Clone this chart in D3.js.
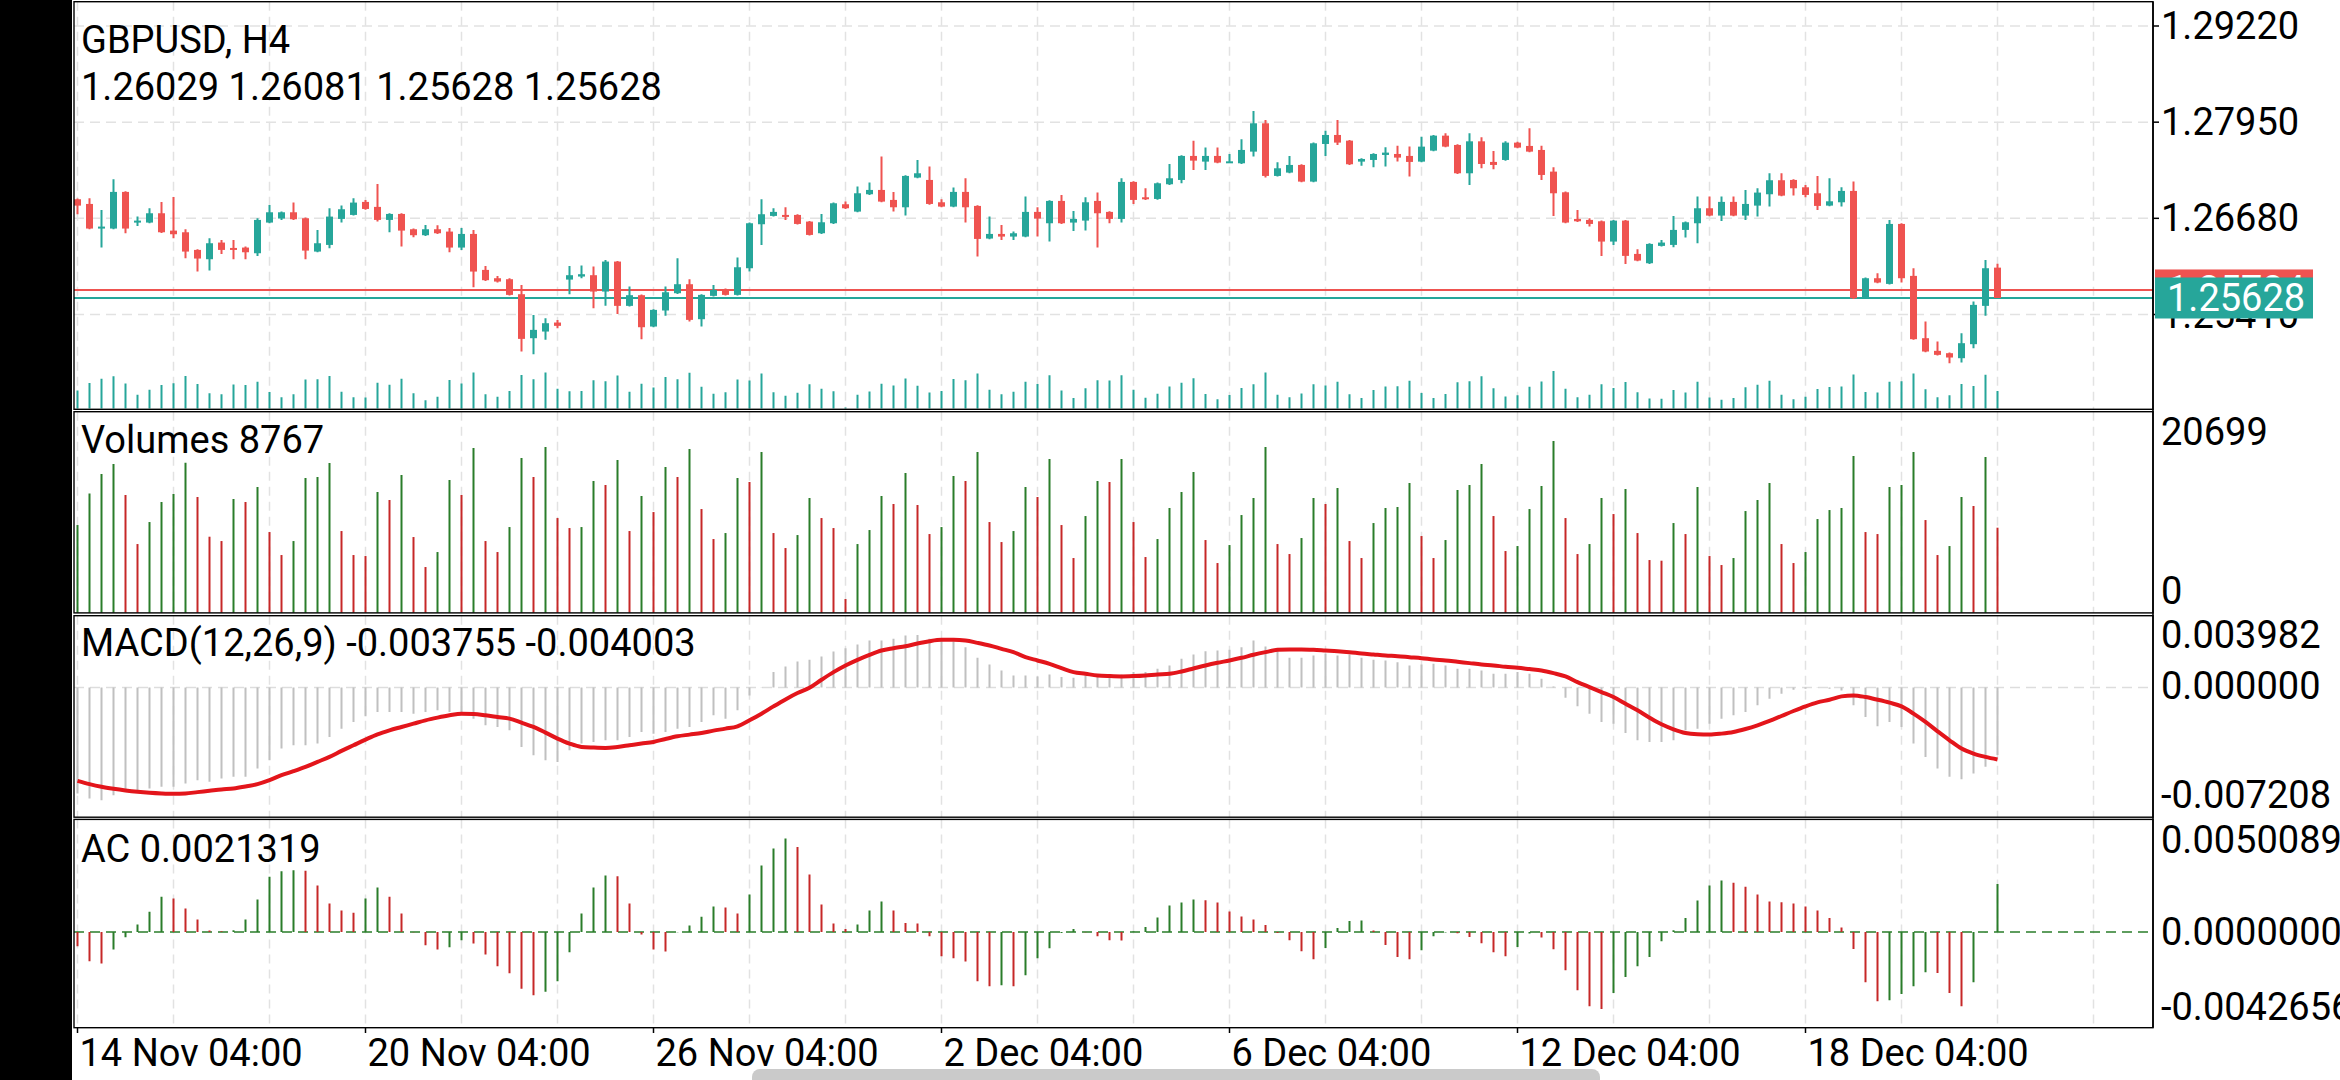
<!DOCTYPE html>
<html><head><meta charset="utf-8">
<script src="https://cdn.jsdelivr.net/npm/d3@7"></script>
<style>html,body{margin:0;padding:0;background:#fff;overflow:hidden}svg{display:block}text{font-family:Roboto,"Noto Sans",sans-serif}</style>
</head><body><svg id="c" width="2340" height="1080"></svg>
<script>
const symbol = "GBPUSD, H4";
const xTickIndex = [0,24,48,72,96,120,144];
const xTickLabels = ["14 Nov 04:00","20 Nov 04:00","26 Nov 04:00","2 Dec 04:00","6 Dec 04:00","12 Dec 04:00","18 Dec 04:00"];
const priceTicks = [1.29220,1.27950,1.26680,1.25410];
const bidPrice = 1.25628, askPrice = 1.25734;
const volRange = [0,20699];
const macdRange = [-0.007208,0.003982];
const acRange = [-0.0042656,0.0050089];

// [open, high, low, close]
const ohlc = [
[1.26932,1.26941,1.26734,1.26848],[1.26870,1.26945,1.26536,1.26545],[1.26545,1.26791,1.26294,1.26571],[1.26545,1.27196,1.26536,1.27029],[1.27029,1.27037,1.26483,1.26545],
[1.26624,1.26703,1.26580,1.26650],[1.26624,1.26813,1.26615,1.26747],[1.26747,1.26897,1.26487,1.26496],[1.26518,1.26963,1.26417,1.26470],[1.26496,1.26536,1.26153,1.26241],
[1.26263,1.26272,1.25977,1.26149],[1.26140,1.26417,1.25990,1.26351],[1.26360,1.26395,1.26210,1.26263],[1.26289,1.26395,1.26140,1.26276],[1.26294,1.26307,1.26140,1.26232],
[1.26219,1.26681,1.26184,1.26659],[1.26624,1.26857,1.26615,1.26760],[1.26677,1.26769,1.26659,1.26760],[1.26760,1.26888,1.26659,1.26668],[1.26681,1.26690,1.26140,1.26254],
[1.26241,1.26527,1.26232,1.26351],[1.26329,1.26813,1.26285,1.26703],[1.26672,1.26848,1.26624,1.26800],[1.26725,1.26945,1.26716,1.26888],[1.26897,1.26923,1.26795,1.26804],
[1.26831,1.27134,1.26637,1.26659],[1.26659,1.26747,1.26496,1.26738],[1.26738,1.26747,1.26307,1.26518],[1.26536,1.26545,1.26430,1.26457],[1.26457,1.26593,1.26448,1.26536],
[1.26536,1.26589,1.26474,1.26483],[1.26505,1.26553,1.26232,1.26294],[1.26294,1.26553,1.26263,1.26474],[1.26474,1.26527,1.25770,1.25977],[1.25999,1.26052,1.25854,1.25863],
[1.25889,1.25920,1.25832,1.25845],[1.25876,1.25889,1.25660,1.25669],[1.25678,1.25801,1.24921,1.25088],[1.25097,1.25405,1.24886,1.25207],[1.25185,1.25361,1.25075,1.25295],
[1.25304,1.25339,1.25229,1.25260],[1.25871,1.26052,1.25678,1.25929],[1.25911,1.26056,1.25889,1.25942],[1.25929,1.26043,1.25493,1.25713],[1.25713,1.26131,1.25524,1.26109],
[1.26109,1.26118,1.25418,1.25524],[1.25524,1.25779,1.25515,1.25665],[1.25665,1.25673,1.25084,1.25242],[1.25251,1.25480,1.25242,1.25471],[1.25463,1.25779,1.25392,1.25704],
[1.25691,1.26153,1.25682,1.25810],[1.25810,1.25876,1.25317,1.25339],[1.25348,1.25678,1.25251,1.25669],[1.25656,1.25801,1.25647,1.25735],[1.25744,1.25753,1.25660,1.25669],
[1.25669,1.26162,1.25660,1.26034],[1.26021,1.26624,1.25977,1.26615],[1.26602,1.26932,1.26329,1.26734],[1.26712,1.26813,1.26703,1.26765],[1.26725,1.26826,1.26659,1.26703],
[1.26725,1.26734,1.26598,1.26606],[1.26637,1.26646,1.26452,1.26461],[1.26483,1.26738,1.26474,1.26628],[1.26615,1.26888,1.26606,1.26879],[1.26866,1.26901,1.26804,1.26813],
[1.26769,1.27099,1.26760,1.27011],[1.26998,1.27152,1.26989,1.27055],[1.27055,1.27495,1.26892,1.26901],[1.26923,1.27029,1.26769,1.26826],[1.26826,1.27249,1.26716,1.27240],
[1.27218,1.27451,1.27209,1.27275],[1.27187,1.27363,1.26861,1.26870],[1.26892,1.26932,1.26826,1.26835],[1.26835,1.27086,1.26826,1.27029],[1.27029,1.27209,1.26624,1.26826],
[1.26844,1.26853,1.26175,1.26408],[1.26413,1.26703,1.26404,1.26474],[1.26474,1.26593,1.26395,1.26439],[1.26439,1.26505,1.26395,1.26483],[1.26439,1.26967,1.26430,1.26765],
[1.26765,1.26826,1.26439,1.26677],[1.26615,1.26919,1.26373,1.26910],[1.26910,1.26989,1.26606,1.26615],[1.26624,1.26778,1.26514,1.26672],[1.26650,1.26958,1.26518,1.26892],
[1.26910,1.27020,1.26294,1.26747],[1.26765,1.26773,1.26615,1.26672],[1.26672,1.27209,1.26624,1.27161],[1.27161,1.27169,1.26870,1.26923],[1.26958,1.27077,1.26923,1.26932],
[1.26936,1.27152,1.26927,1.27143],[1.27130,1.27398,1.27121,1.27209],[1.27187,1.27513,1.27143,1.27504],[1.27504,1.27706,1.27319,1.27442],[1.27429,1.27614,1.27319,1.27504],
[1.27504,1.27614,1.27407,1.27416],[1.27420,1.27530,1.27411,1.27433],[1.27407,1.27724,1.27398,1.27583],[1.27561,1.28098,1.27495,1.27935],[1.27935,1.27979,1.27218,1.27240],
[1.27240,1.27420,1.27231,1.27341],[1.27284,1.27504,1.27275,1.27385],[1.27385,1.27394,1.27156,1.27165],[1.27165,1.27680,1.27156,1.27671],[1.27662,1.27838,1.27504,1.27781],
[1.27781,1.27979,1.27649,1.27680],[1.27706,1.27715,1.27385,1.27394],[1.27429,1.27473,1.27376,1.27464],[1.27451,1.27539,1.27354,1.27530],[1.27517,1.27618,1.27363,1.27548],
[1.27530,1.27640,1.27429,1.27482],[1.27504,1.27627,1.27231,1.27425],[1.27429,1.27759,1.27420,1.27627],[1.27574,1.27781,1.27565,1.27772],[1.27772,1.27803,1.27618,1.27627],
[1.27649,1.27658,1.27266,1.27275],[1.27275,1.27803,1.27121,1.27697],[1.27697,1.27750,1.27341,1.27398],[1.27425,1.27570,1.27328,1.27385],[1.27451,1.27697,1.27442,1.27680],
[1.27680,1.27693,1.27605,1.27614],[1.27636,1.27869,1.27552,1.27561],[1.27583,1.27640,1.27187,1.27253],[1.27297,1.27354,1.26712,1.27011],[1.27024,1.27033,1.26615,1.26624],
[1.26672,1.26791,1.26633,1.26641],[1.26659,1.26681,1.26571,1.26606],[1.26641,1.26650,1.26184,1.26373],[1.26373,1.26659,1.26329,1.26650],[1.26650,1.26659,1.26078,1.26184],
[1.26210,1.26272,1.26113,1.26122],[1.26087,1.26351,1.26078,1.26342],[1.26316,1.26395,1.26307,1.26360],[1.26329,1.26712,1.26298,1.26527],[1.26527,1.26637,1.26426,1.26628],
[1.26615,1.26967,1.26351,1.26813],[1.26813,1.26967,1.26707,1.26716],[1.26716,1.26967,1.26646,1.26897],[1.26897,1.26967,1.26707,1.26716],[1.26716,1.27055,1.26659,1.26870],
[1.26848,1.27077,1.26703,1.27020],[1.26998,1.27275,1.26835,1.27183],[1.27183,1.27275,1.26971,1.26980],[1.27187,1.27196,1.26980,1.27077],[1.27090,1.27121,1.26958,1.26989],
[1.27011,1.27240,1.26791,1.26844],[1.26848,1.27209,1.26839,1.26905],[1.26892,1.27090,1.26835,1.27042],[1.27042,1.27165,1.25616,1.25625],[1.25625,1.25898,1.25616,1.25889],
[1.25889,1.25955,1.25823,1.25832],[1.25814,1.26659,1.25805,1.26606],[1.26606,1.26615,1.25832,1.25889],[1.25920,1.26021,1.25075,1.25084],[1.25097,1.25317,1.24912,1.24921],
[1.24930,1.25053,1.24868,1.24877],[1.24899,1.24908,1.24767,1.24842],[1.24833,1.25163,1.24776,1.25031],[1.25018,1.25581,1.24965,1.25537],[1.25524,1.26131,1.25392,1.26021],
[1.26029,1.26081,1.25628,1.25628]
];

const volume = [
9040,12305,14299,15330,12134,7081,9350,11412,12237,15467,
11927,7837,7390,11721,11412,12958,8318,5947,7390,13886,
13990,15433,8422,5947,5844,12443,11618,14196,7803,4710,
6256,13680,12134,16980,7390,6256,8834,15949,13990,17083,
9762,8731,8834,13577,13165,15742,8422,12030,10381,15021,
13990,16877,10690,7597,8215,13886,13474,16567,8215,6669,
8009,11824,9762,8731,1410,7081,8525,12030,11206,14402,
11102,8112,8834,14093,13577,16567,9350,7287,8422,12958,
11927,15846,9040,5638,9968,13577,13474,15846,9350,5741,
7597,10793,12443,14505,7494,5122,6978,10071,11824,17083,
7081,6050,7700,11824,11206,12855,7390,5638,9246,10793,
10896,13371,7906,5638,7494,12649,13165,15330,9968,6359,
6875,10690,13062,17701,9762,6050,7081,11824,10174,12752,
8215,5431,5363,9246,8112,12958,5844,4916,5638,10484,
11618,13371,7081,5122,6256,9659,10587,10793,16155,8318,
8112,12958,13165,16567,9556,5947,6875,11927,10999,16052,
8767];

const macdMain = [
-0.005890,-0.006167,-0.006260,-0.005983,-0.005798,-0.005706,-0.005613,-0.005521,-0.005521,-0.005336,
-0.005152,-0.005244,-0.005059,-0.004967,-0.004967,-0.004505,-0.004044,-0.003398,-0.003213,-0.003213,
-0.003121,-0.002751,-0.002290,-0.001920,-0.001606,-0.001366,-0.001366,-0.001366,-0.001459,-0.001366,
-0.001274,-0.001366,-0.001459,-0.001736,-0.002105,-0.002197,-0.002382,-0.003305,-0.003767,-0.004044,
-0.004136,-0.003490,-0.003121,-0.003028,-0.002936,-0.002936,-0.002751,-0.002474,-0.002567,-0.002474,
-0.002290,-0.002197,-0.001920,-0.001551,-0.001736,-0.001274,-0.000443,-0.000018,0.000849,0.001163,
0.001440,0.001533,0.001717,0.001994,0.002179,0.002382,0.002604,0.002604,0.002696,0.002881,
0.002917,0.002696,0.002640,0.002567,0.002234,0.001643,0.001274,0.000942,0.000665,0.000665,
0.000609,0.000720,0.000572,0.000535,0.000665,0.000609,0.000572,0.000720,0.000849,0.000849,
0.001034,0.001219,0.001588,0.001828,0.002013,0.002050,0.002087,0.002234,0.002604,0.002271,
0.002050,0.001643,0.001643,0.001773,0.001865,0.001773,0.001828,0.001643,0.001533,0.001496,
0.001403,0.001219,0.001274,0.001311,0.001219,0.001034,0.001034,0.000942,0.000757,0.000757,
0.000849,0.000757,0.000480,0.000055,-0.000572,-0.001053,-0.001459,-0.001920,-0.002013,-0.002530,
-0.002936,-0.003028,-0.003028,-0.002936,-0.002382,-0.002290,-0.002013,-0.001736,-0.001551,-0.001366,
-0.000997,-0.000628,-0.000351,-0.000129,-0.000074,-0.000018,-0.000074,-0.000166,-0.000997,-0.001643,
-0.002160,-0.001920,-0.002197,-0.003121,-0.003859,-0.004505,-0.004967,-0.005096,-0.004782,-0.004413,
-0.003755];

const macdSignal = [
-0.005189,-0.005373,-0.005521,-0.005632,-0.005724,-0.005798,-0.005853,-0.005890,-0.005909,-0.005890,
-0.005816,-0.005743,-0.005669,-0.005613,-0.005503,-0.005373,-0.005152,-0.004875,-0.004653,-0.004413,
-0.004136,-0.003859,-0.003527,-0.003213,-0.002899,-0.002604,-0.002382,-0.002197,-0.002013,-0.001828,
-0.001680,-0.001551,-0.001459,-0.001477,-0.001551,-0.001643,-0.001736,-0.001957,-0.002197,-0.002511,
-0.002844,-0.003121,-0.003305,-0.003342,-0.003361,-0.003305,-0.003213,-0.003121,-0.003028,-0.002862,
-0.002714,-0.002622,-0.002530,-0.002400,-0.002290,-0.002160,-0.001828,-0.001459,-0.001053,-0.000665,
-0.000314,-0.000018,0.000425,0.000849,0.001219,0.001533,0.001810,0.002050,0.002179,0.002290,
0.002437,0.002567,0.002640,0.002640,0.002604,0.002474,0.002327,0.002142,0.001957,0.001680,
0.001496,0.001311,0.001071,0.000849,0.000757,0.000665,0.000628,0.000609,0.000628,0.000665,
0.000720,0.000757,0.000886,0.001053,0.001219,0.001366,0.001496,0.001643,0.001810,0.001957,
0.002087,0.002105,0.002105,0.002087,0.002050,0.002013,0.001957,0.001883,0.001828,0.001773,
0.001736,0.001680,0.001625,0.001551,0.001496,0.001422,0.001348,0.001274,0.001219,0.001145,
0.001089,0.001016,0.000942,0.000794,0.000609,0.000295,0.000018,-0.000259,-0.000535,-0.000905,
-0.001274,-0.001680,-0.002050,-0.002327,-0.002530,-0.002604,-0.002622,-0.002567,-0.002474,-0.002308,
-0.002105,-0.001865,-0.001588,-0.001311,-0.001053,-0.000831,-0.000683,-0.000499,-0.000443,-0.000535,
-0.000683,-0.000849,-0.001053,-0.001459,-0.001920,-0.002437,-0.002936,-0.003398,-0.003675,-0.003859,
-0.004003];

const ac = [
-0.000639,-0.001308,-0.001412,-0.000788,-0.000238,0.000327,0.000892,0.001561,0.001486,0.001040,
0.000550,0.000059,0.000030,0.000074,0.000550,0.001442,0.002452,0.002705,0.002750,0.002720,
0.002066,0.001263,0.000951,0.000847,0.001486,0.001977,0.001561,0.000817,-0.000015,-0.000595,
-0.000788,-0.000684,-0.000372,-0.000520,-0.001011,-0.001531,-0.001843,-0.002527,-0.002824,-0.002660,
-0.002200,-0.000907,0.000817,0.001977,0.002512,0.002482,0.001263,-0.000119,-0.000788,-0.000877,
-0.000015,0.000282,0.000669,0.001130,0.001085,0.000817,0.001665,0.002958,0.003716,0.004162,
0.003775,0.002556,0.001219,0.000372,0.000134,0.000327,0.000951,0.001353,0.000951,0.000401,
0.000372,-0.000193,-0.001085,-0.001174,-0.001323,-0.002200,-0.002423,-0.002378,-0.002423,-0.001932,
-0.001174,-0.000728,-0.000045,0.000134,-0.000015,-0.000193,-0.000372,-0.000386,0.000015,0.000223,
0.000639,0.001174,0.001308,0.001442,0.001412,0.001308,0.000907,0.000684,0.000550,0.000312,
-0.000045,-0.000372,-0.000862,-0.001219,-0.000713,0.000178,0.000490,0.000505,0.000059,-0.000580,
-0.001115,-0.001219,-0.000817,-0.000193,-0.000030,-0.000059,-0.000223,-0.000505,-0.000907,-0.001085,
-0.000669,-0.000074,-0.000253,-0.000773,-0.001709,-0.002601,-0.003314,-0.003433,-0.002720,-0.002007,
-0.001531,-0.001115,-0.000416,0.000074,0.000624,0.001397,0.002066,0.002289,0.002185,0.002007,
0.001665,0.001353,0.001323,0.001263,0.001130,0.000951,0.000624,0.000193,-0.000758,-0.002244,
-0.003092,-0.003047,-0.002765,-0.002423,-0.001798,-0.001828,-0.002720,-0.003314,-0.002244,-0.000015,
0.0021319];

// ---------------- drawing ----------------
const W = 2340, H = 1080, L = 74, R = 2153;
const BULL = "#26a69a", BEAR = "#ef5350", UPC = "#2a7d2a", DNC = "#c62828";
const GRID = "#e2e2e2", FS = 38;
const panels = {main:[1.7,409.3], vol:[411.7,612.9], macd:[615.7,817.2], ac:[819.4,1027.7]};

const svg = d3.select("#c");
svg.append("rect").attr("width",W).attr("height",H).attr("fill","#fff");

const x = d3.scaleLinear().domain([0,168]).range([77.5,2093.5]);
const gridIdx = d3.range(0,169,8);

const defs = svg.append("defs");
Object.entries(panels).forEach(([k,[t,b]])=>{
  defs.append("clipPath").attr("id","clip-"+k).append("rect")
    .attr("x",L).attr("y",t).attr("width",R-L).attr("height",b-t);
});
const layer = k => svg.append("g").attr("clip-path",`url(#clip-${k})`);

// vertical dashed grid in every panel
Object.entries(panels).forEach(([k,[t,b]])=>{
  layer(k).selectAll("line").data(gridIdx).join("line")
    .attr("x1",d=>x(d)).attr("x2",d=>x(d)).attr("y1",t).attr("y2",b)
    .attr("stroke",GRID).attr("stroke-width",1.5).attr("stroke-dasharray","9,6");
});

// ---- main panel ----
const y = d3.scaleLinear().domain([d3.min(priceTicks),d3.max(priceTicks)]).range([314.5,26]);
const gm = layer("main");
gm.selectAll("line.h").data(priceTicks).join("line").attr("class","h")
  .attr("x1",L).attr("x2",R).attr("y1",d=>y(d)).attr("y2",d=>y(d))
  .attr("stroke",GRID).attr("stroke-width",1.5).attr("stroke-dasharray","10,6");

// tick volumes at bottom of main window
const yv0 = d3.scaleLinear().domain([d3.min(volume)*0.7, d3.max(volume)]).range([408.5,371]);
gm.selectAll("line.tv").data(volume).join("line").attr("class","tv")
  .attr("x1",(d,i)=>x(i)).attr("x2",(d,i)=>x(i)).attr("y1",408.5).attr("y2",d=>yv0(d))
  .attr("stroke",BULL).attr("stroke-width",2);

// bid / ask lines
gm.append("line").attr("x1",L).attr("x2",R).attr("y1",y(askPrice)).attr("y2",y(askPrice)).attr("stroke",BEAR).attr("stroke-width",2);
gm.append("line").attr("x1",L).attr("x2",R).attr("y1",y(bidPrice)).attr("y2",y(bidPrice)).attr("stroke",BULL).attr("stroke-width",2);

// candles
const cg = gm.selectAll("g.c").data(ohlc).join("g").attr("class","c");
cg.append("line").attr("x1",(d,i)=>x(i)).attr("x2",(d,i)=>x(i))
  .attr("y1",d=>y(d[1])).attr("y2",d=>y(d[2]))
  .attr("stroke",d=>d[3]>=d[0]?BULL:BEAR).attr("stroke-width",2);
cg.append("rect").attr("x",(d,i)=>x(i)-3.5).attr("width",7)
  .attr("y",d=>y(Math.max(d[0],d[3])))
  .attr("height",d=>Math.max(2,Math.abs(y(d[0])-y(d[3]))))
  .attr("fill",d=>d[3]>=d[0]?BULL:BEAR);

// ---- volumes panel ----
const yVol = d3.scaleLinear().domain(volRange).range([612.7,412]);
layer("vol").selectAll("line").data(volume).join("line")
  .attr("x1",(d,i)=>x(i)).attr("x2",(d,i)=>x(i)).attr("y1",yVol(0)).attr("y2",d=>yVol(d))
  .attr("stroke",(d,i)=>(i===0||d>volume[i-1])?UPC:DNC).attr("stroke-width",2);

// ---- MACD panel ----
const yM = d3.scaleLinear().domain(macdRange).range([817.2,615.7]);
const gM = layer("macd");
gM.append("line").attr("x1",L).attr("x2",R).attr("y1",yM(0)).attr("y2",yM(0))
  .attr("stroke","#dddddd").attr("stroke-width",1.5).attr("stroke-dasharray","10,6");
gM.selectAll("line.b").data(macdMain).join("line").attr("class","b")
  .attr("x1",(d,i)=>x(i)).attr("x2",(d,i)=>x(i)).attr("y1",yM(0)).attr("y2",d=>yM(d))
  .attr("stroke","#c0c0c0").attr("stroke-width",2);
gM.append("path").datum(macdSignal)
  .attr("d",d3.line().x((d,i)=>x(i)).y(d=>yM(d)).curve(d3.curveMonotoneX))
  .attr("fill","none").attr("stroke","#e3151b").attr("stroke-width",4);

// ---- AC panel ----
const yA = d3.scaleLinear().domain(acRange).range([1027.7,819.4]);
const gA = layer("ac");
gA.append("line").attr("x1",L).attr("x2",R).attr("y1",yA(0)).attr("y2",yA(0))
  .attr("stroke",UPC).attr("stroke-width",1.5).attr("stroke-dasharray","10,6");
gA.selectAll("line.b").data(ac).join("line").attr("class","b")
  .attr("x1",(d,i)=>x(i)).attr("x2",(d,i)=>x(i)).attr("y1",yA(0)).attr("y2",d=>yA(d))
  .attr("stroke",(d,i)=>(i>0&&d>ac[i-1])?UPC:DNC).attr("stroke-width",2);

// ---- frames ----
Object.values(panels).forEach(([t,b])=>{
  svg.append("rect").attr("x",L).attr("y",t).attr("width",R-L).attr("height",b-t)
    .attr("fill","none").attr("stroke","#000").attr("stroke-width",1.4);
});
svg.append("line").attr("x1",R).attr("x2",R).attr("y1",1.7).attr("y2",1027.7).attr("stroke","#000").attr("stroke-width",1.6);
svg.append("rect").attr("x",0).attr("y",0).attr("width",72).attr("height",H).attr("fill","#000");

// ---- right axis labels ----
const ax = svg.append("g").attr("font-size",FS).attr("fill","#000");
ax.selectAll("line.pt").data(priceTicks).join("line").attr("class","pt")
  .attr("x1",R).attr("x2",R+6).attr("y1",d=>y(d)).attr("y2",d=>y(d)).attr("stroke","#000").attr("stroke-width",1.5);
ax.selectAll("text.pt").data(priceTicks).join("text").attr("class","pt")
  .attr("x",2161).attr("y",d=>y(d)+13).text(d=>d.toFixed(5));
const subLabels = [
  {t:String(volRange[1]), y:panels.vol[0]+33},
  {t:String(volRange[0]), y:panels.vol[1]-9},
  {t:macdRange[1].toFixed(6), y:panels.macd[0]+32},
  {t:(0).toFixed(6), y:yM(0)+12},
  {t:macdRange[0].toFixed(6), y:panels.macd[1]-9},
  {t:acRange[1].toFixed(7), y:panels.ac[0]+34},
  {t:(0).toFixed(7), y:yA(0)+13},
  {t:acRange[0].toFixed(7), y:panels.ac[1]-8}
];
ax.selectAll("text.sl").data(subLabels).join("text").attr("class","sl")
  .attr("x",2161).attr("y",d=>d.y).text(d=>d.t);

// price boxes (ask behind, bid in front)
[[askPrice,BEAR],[bidPrice,BULL]].forEach(([p,c])=>{
  const cy = y(p);
  svg.append("rect").attr("x",2155).attr("y",cy-20.5).attr("width",158).attr("height",41).attr("fill",c);
  svg.append("text").attr("x",2167).attr("y",cy+13).attr("font-size",FS).attr("fill","#fff").text(p.toFixed(5));
});

// ---- x axis ----
const xa = svg.append("g");
xa.selectAll("line").data(xTickIndex).join("line")
  .attr("x1",d=>x(d)).attr("x2",d=>x(d)).attr("y1",1027.7).attr("y2",1033).attr("stroke","#000").attr("stroke-width",1.5);
xa.selectAll("text").data(xTickIndex).join("text")
  .attr("x",d=>x(d)+2).attr("y",1066).attr("font-size",FS).attr("fill","#000")
  .text((d,i)=>xTickLabels[i]);

// scrollbar pill
svg.append("rect").attr("x",752).attr("y",1069).attr("width",848).attr("height",22).attr("rx",8).attr("fill","#cacaca");

// ---- titles ----
const last = ohlc[ohlc.length-1];
const tt = svg.append("g").attr("font-size",FS).attr("fill","#000");
tt.append("text").attr("x",81).attr("y",53).text(symbol);
tt.append("text").attr("x",81).attr("y",100).text(last.map(v=>v.toFixed(5)).join(" "));
tt.append("text").attr("x",81).attr("y",453).text("Volumes " + volume[volume.length-1]);
tt.append("text").attr("x",81).attr("y",656).text("MACD(12,26,9) " + macdMain[macdMain.length-1].toFixed(6) + " " + macdSignal[macdSignal.length-1].toFixed(6));
tt.append("text").attr("x",81).attr("y",862).text("AC " + ac[ac.length-1].toFixed(7));
</script></body></html>
